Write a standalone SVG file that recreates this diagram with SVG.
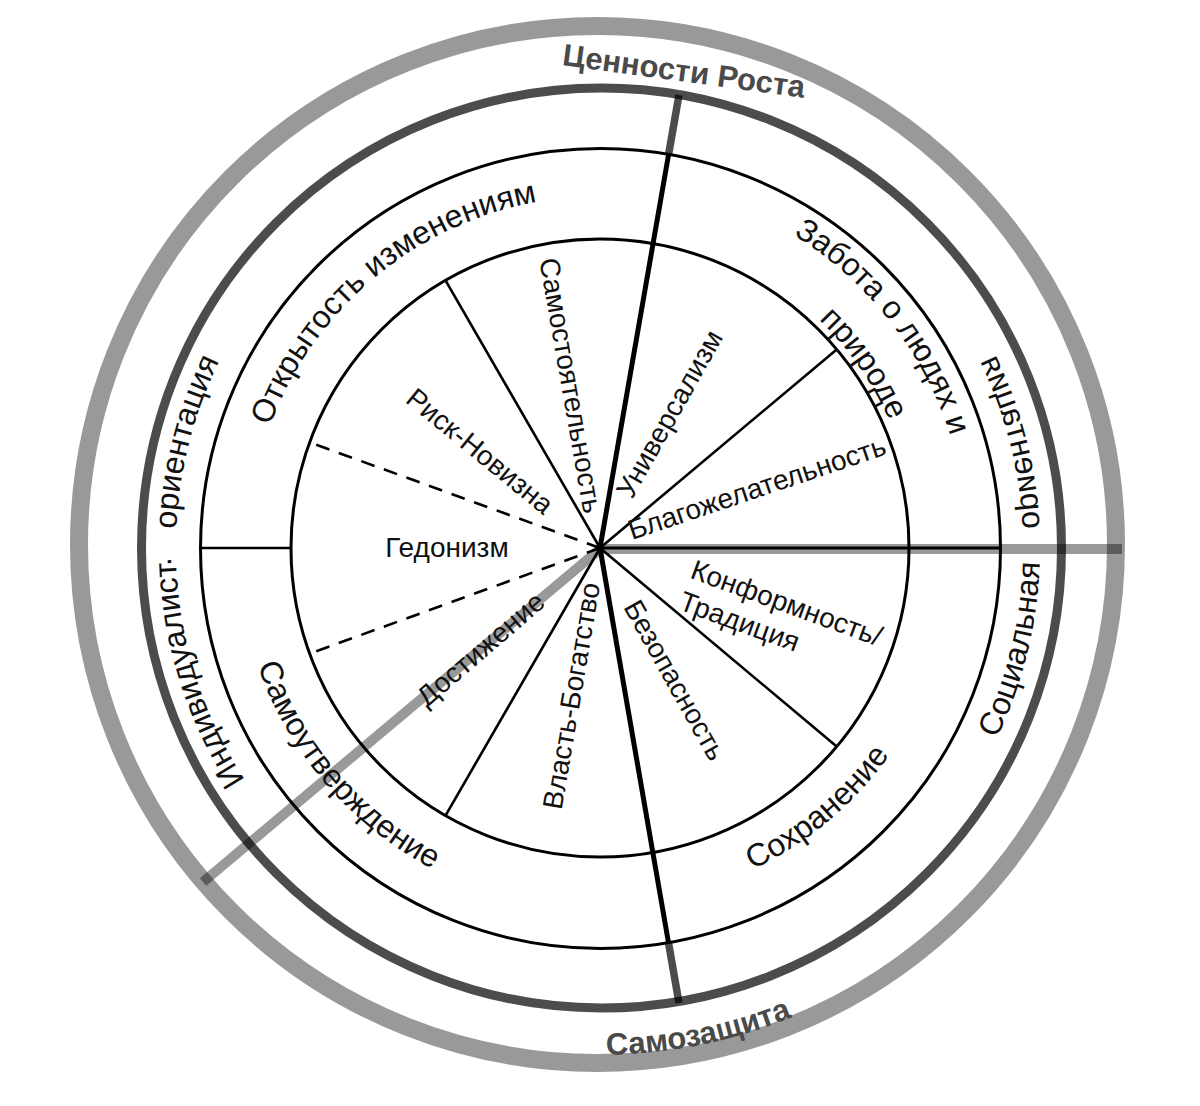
<svg xmlns="http://www.w3.org/2000/svg" width="1200" height="1106" viewBox="0 0 1200 1106">
<style>
.t{font-family:"Liberation Sans",Arial,sans-serif;font-size:28px;fill:#111}
.c{font-family:"Liberation Sans",Arial,sans-serif;font-size:32px;fill:#111}
.b{font-family:"Liberation Sans",Arial,sans-serif;font-size:31px;font-weight:bold;fill:#4a4a4a}
.ring{fill:none;stroke:#000}
.sp{stroke:#000;stroke-width:2.6;fill:none}
.dash{stroke-dasharray:14 10}
.grey{stroke:#000;stroke-opacity:.4;stroke-width:10;fill:none}
.axis{stroke:#000;stroke-opacity:.7;stroke-width:7.5;fill:none}
.axisin{stroke:#000;stroke-width:5;fill:none}
</style>
<defs>
<path id="pOpen" d="M295.2,724 A352,352 0 0 1 826.3,278.4"/>
<path id="pCare" d="M427.2,223.1 A368,368 0 0 1 873.5,794.2"/>
<path id="pNature" d="M466.2,261 A317,317 0 0 1 824.2,772.2"/>
<path id="pSelfEnh" d="M319.9,318.7 A362,362 0 0 0 784.8,859.3"/>
<path id="pCons" d="M370.7,820.3 A356,356 0 0 0 908.6,370.5"/>
<path id="pProt" d="M128.3,733.8 A507,507 0 0 0 1106.8,534.7"/>
<path id="pOrR" d="M567.9,126.2 A423,423 0 0 1 774.4,933.4"/>
<path id="pSoc" d="M571.2,987.1 A440,440 0 0 0 777.2,145.3"/>
<path id="pInd" d="M555.7,969.7 A424,424 0 0 1 497.4,136.6"/>
</defs>
<rect width="1200" height="1106" fill="#fff"/>
<g id="rings">
<circle class="ring" cx="597.5" cy="544.5" r="518.5" stroke-opacity=".4" stroke-width="18"/>
<circle class="ring" cx="601.5" cy="548" r="460" stroke-opacity=".7" stroke-width="9"/>
<circle class="ring" cx="600.5" cy="548.5" r="400" stroke-width="3"/>
<circle class="ring" cx="600" cy="548" r="309" stroke-width="3"/>
</g>
<g id="connectors">
<line class="grey" x1="600" y1="549" x2="1122" y2="549"/>
<line class="grey" x1="600" y1="549" x2="203" y2="882"/>
<line class="axisin" x1="600" y1="548" x2="1000" y2="548" style="stroke-width:3.2"/>
<line class="axis" x1="668.7" y1="153.9" x2="679" y2="95"/>
<line class="axisin" x1="600" y1="548" x2="668.7" y2="153.9"/>
<line class="axis" x1="668.4" y1="942.1" x2="679" y2="1003"/>
<line class="axisin" x1="600" y1="548" x2="668.4" y2="942.1"/>
<line class="sp" x1="600" y1="548" x2="445.5" y2="280.4"/>
<line class="sp" x1="600" y1="548" x2="836.7" y2="349.4"/>
<line class="sp" x1="600" y1="548" x2="836.7" y2="746.6"/>
<line class="sp" x1="600" y1="548" x2="445.5" y2="815.6"/>
<line class="sp dash" x1="600" y1="548" x2="309.6" y2="442.3"/>
<line class="sp dash" x1="600" y1="548" x2="309.6" y2="653.7"/>
<line class="sp" x1="200" y1="548" x2="291" y2="548"/>
</g>
<g id="growth"><text class="b" transform="translate(682.5,81.5) rotate(7.7)" text-anchor="middle">Ценности Роста</text></g>
<g id="protection"><text class="b"><textPath href="#pProt" startOffset="50%" text-anchor="middle">Самозащита</textPath></text></g>
<g id="individual"><text class="c"><textPath href="#pInd" startOffset="376">Индивидуалист<tspan dy="-5">.</tspan><tspan dy="5" dx="19"> ориентация</tspan></textPath></text></g>
<g id="social-top"><text class="c" transform="translate(600 548) rotate(-14.35) scale(1 -1) rotate(14.35) translate(-600 -548)"><textPath href="#pOrR" startOffset="50%" text-anchor="middle">ориентация</textPath></text></g>
<g id="social"><text class="c"><textPath href="#pSoc" startOffset="50%" text-anchor="middle">Социальная</textPath></text></g>
<g id="openness"><text class="c"><textPath href="#pOpen" startOffset="50%" text-anchor="middle">Открытость изменениям</textPath></text></g>
<g id="transcendence"><text class="c"><textPath href="#pCare" startOffset="50%" text-anchor="middle">Забота о людях и</textPath></text><text class="c"><textPath href="#pNature" startOffset="50%" text-anchor="middle">природе</textPath></text></g>
<g id="enhancement"><text class="c"><textPath href="#pSelfEnh" startOffset="50%" text-anchor="middle">Самоутверждение</textPath></text></g>
<g id="conservation"><text class="c"><textPath href="#pCons" startOffset="50%" text-anchor="middle">Сохранение</textPath></text></g>
<g id="hedonism"><text class="t" x="447" y="557" text-anchor="middle">Гедонизм</text></g>
<g id="stimulation"><text class="t" transform="translate(479.5,451.5) rotate(39.3)" y="9" text-anchor="middle">Риск-Новизна</text></g>
<g id="self-direction"><text class="t" transform="translate(570.3,385.6) rotate(80.1)" y="9" text-anchor="middle">Самостоятельность</text></g>
<g id="universalism"><text class="t" transform="translate(670,414) rotate(-60.7)" y="9" text-anchor="middle">Универсализм</text></g>
<g id="benevolence"><text class="t" transform="translate(757,488.5) rotate(-18.6)" y="9" text-anchor="middle">Благожелательность</text></g>
<g id="conformity"><text class="t" transform="translate(692.3,568.2) rotate(20)"><tspan x="0" y="10">Конформность/</tspan><tspan x="0" y="43.5">Традиция</tspan></text></g>
<g id="security"><text class="t" transform="translate(674.5,680.5) rotate(60.7)" y="9" text-anchor="middle">Безопасность</text></g>
<g id="power"><text class="t" transform="translate(572,696) rotate(-80.3)" y="9" text-anchor="middle">Власть-Богатство</text></g>
<g id="achievement"><text class="t" transform="translate(481,649.5) rotate(-40.7)" y="9" text-anchor="middle">Достижение</text></g>
</svg>
